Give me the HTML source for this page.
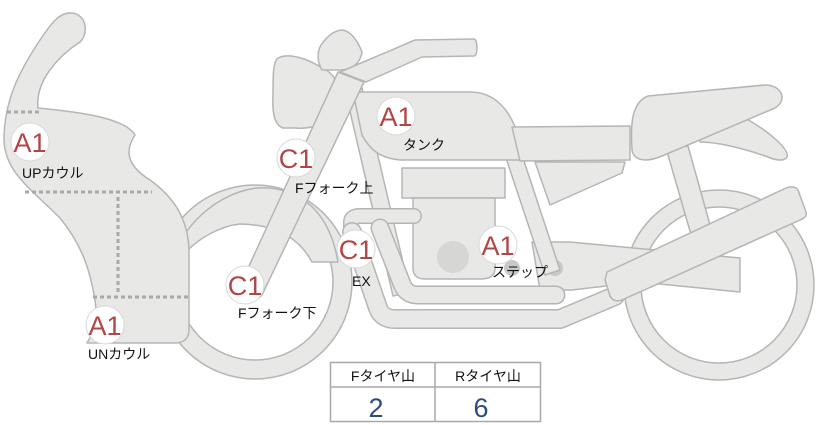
<!DOCTYPE html>
<html><head><meta charset="utf-8"><style>
html,body{margin:0;padding:0;background:#fff;}
svg{display:block;}
.p{fill:#e8e8e6;stroke:#b5b5b5;stroke-width:1.5;stroke-linejoin:round;}
.lbl{font-family:"Liberation Sans","Noto Sans CJK JP",sans-serif;font-size:14px;fill:#111;}
.bd{font-family:"Liberation Sans",sans-serif;font-size:27px;fill:#b04646;}
.po{fill:none;stroke:#b5b5b5;stroke-linejoin:round;stroke-linecap:round;}
.pf{fill:none;stroke:#e8e8e6;stroke-linejoin:round;stroke-linecap:round;}
</style></head><body>
<svg width="822" height="425" viewBox="0 0 822 425" xmlns="http://www.w3.org/2000/svg">
<!-- rear wheel -->
<circle cx="719" cy="285" r="95" class="p"/>
<circle cx="719" cy="285" r="78" fill="#fff" stroke="#b5b5b5" stroke-width="1.5"/>
<!-- front wheel -->
<circle cx="255" cy="282" r="97" class="p"/>
<circle cx="255" cy="282" r="78" fill="#fff" stroke="#b5b5b5" stroke-width="1.5"/>
<!-- front fender -->
<path class="p" d="M178,245 C200,205 240,185 270,188 C305,192 330,215 338,262 L312,262 C300,240 280,225 240,224 C220,226 200,238 188,250 Z"/>
<!-- rear shock -->
<path class="p" d="M666,148 L688,146 L712,232 L692,238 Z"/>
<!-- swingarm/step -->
<path class="p" d="M532,242 L570,242 L740,258 L740,292 L640,282 L572,290 L540,290 Z"/>
<circle cx="512" cy="268" r="8" fill="#c8c8c6"/>
<circle cx="555" cy="268" r="8" fill="#c8c8c6"/>
<!-- frame tubes -->
<path class="p" d="M345,90 L362,88 L410,292 L393,296 Z"/>
<path class="p" d="M505,155 L522,155 L560,270 L545,275 Z"/>
<!-- engine -->
<rect class="p" x="402" y="168" width="103" height="30"/>
<path class="p" d="M413,198 L495,198 L495,268 C495,276 490,279 480,279 L425,279 C417,279 413,275 413,268 Z"/>
<circle cx="453" cy="257" r="16" fill="#d6d6d4"/>
<!-- exhaust pipes -->
<path class="po" stroke-width="16" d="M351,240 L351,222 Q351,216 360,216 L414,216"/>
<path class="pf" stroke-width="13" d="M351,240 L351,222 Q351,216 360,216 L414,216"/>
<path class="po" stroke-width="20" d="M352,232 L378,308 Q382,319 395,319 L560,319 L615,296"/>
<path class="pf" stroke-width="17" d="M352,232 L378,308 Q382,319 395,319 L560,319 L615,296"/>
<path class="po" stroke-width="19" d="M380,228 L402,284 Q406,295 418,295 L556,295"/>
<path class="pf" stroke-width="16" d="M380,228 L402,284 Q406,295 418,295 L556,295"/>
<!-- tank -->
<path class="p" d="M353,92 L470,92 C495,92 510,110 518,135 L520,160 L400,160 C380,158 370,150 362,135 Z"/>
<!-- side panel -->
<path class="p" d="M512,127 L630,126 L630,160 L520,161 Z"/>
<path class="p" d="M535,162 L625,162 L622,173 L550,205 Z"/>
<!-- tail -->
<path class="p" d="M700,125 L745,118 C770,132 790,150 787,157 C784,162 775,160 768,157 C740,147 715,142 700,142 Z"/>
<!-- seat -->
<path class="p" d="M632,150 C630,120 633,102 648,96 L765,85 C782,85 788,100 775,108 L662,156 C648,162 634,162 632,150 Z"/>
<!-- muffler -->
<path class="p" d="M607,272 L786,188 C792,186 796,187 798,190 L806,212 C807,216 805,218 800,220 L622,300 C616,302 612,300 610,296 L605,280 Z"/>
<!-- headlight -->
<path class="p" d="M278,58 C290,52 310,60 322,68 C338,75 342,92 336,102 C330,120 318,130 295,128 L283,128 C275,125 272,115 273,95 C273,75 273,62 278,58 Z"/>
<path class="p" d="M321,45 C328,35 335,30 343,30 C352,32 358,42 362,52 C360,64 352,70 340,70 L322,70 C317,62 317,52 321,45 Z"/>
<!-- handlebar -->
<path class="p" d="M340,72 L415,40 L474,39 C478,39 478,56 474,56 L422,57 L366,82 Z"/>
<!-- fork -->
<path class="p" d="M338,72 L364,82 L262,295 C256,302 242,300 238,290 Z"/>
<!-- fairing -->
<path class="p" d="M72,13 C88,15 88,35 80,42 C60,55 35,80 38,108 C80,112 125,118 135,135 C125,150 126,165 150,180 C175,198 188,220 189,250 L189,330 C189,338 184,343 175,343 L87,343 C95,330 98,320 95,300 C90,270 82,245 60,218 C30,188 5,172 4,140 C4,100 20,70 40,40 C52,22 60,12 72,13 Z"/>
<g stroke="#a9a9a9" stroke-width="3" stroke-dasharray="4,3" fill="none">
<line x1="7" y1="112" x2="40" y2="112"/>
<line x1="25" y1="192" x2="152" y2="192"/>
<line x1="118" y1="197" x2="118" y2="294"/>
<line x1="93" y1="297" x2="188" y2="297"/>
</g>
<!-- badges -->
<g fill="#fff" stroke="#d8d8d8" stroke-width="1">
<circle cx="30" cy="142" r="19"/><circle cx="105" cy="325" r="19"/>
<circle cx="296" cy="158" r="19"/><circle cx="245" cy="285" r="19"/>
<circle cx="356" cy="249" r="19"/><circle cx="396" cy="116" r="19"/>
<circle cx="498" cy="245" r="19"/>
</g>
<g class="bd" text-anchor="middle">
<text x="30" y="152">A1</text><text x="105" y="335">A1</text>
<text x="296" y="168">C1</text><text x="245" y="295">C1</text>
<text x="356" y="259">C1</text><text x="396" y="126">A1</text>
<text x="498" y="255">A1</text>
</g>
<g class="lbl">
<text x="22" y="178">UPカウル</text>
<text x="88" y="359">UNカウル</text>
<text x="295" y="193">Fフォーク上</text>
<text x="238" y="318">Fフォーク下</text>
<text x="352" y="286">EX</text>
<text x="403" y="150">タンク</text>
<text x="492" y="277">ステップ</text>
</g>
<!-- table -->
<rect x="330.5" y="362.5" width="210" height="59" fill="#fff" stroke="#a8a8a8" stroke-width="1.5"/>
<line x1="330" y1="387" x2="541" y2="387" stroke="#a8a8a8" stroke-width="1.5"/>
<line x1="435" y1="362" x2="435" y2="422" stroke="#a8a8a8" stroke-width="1.5"/>
<g class="lbl" text-anchor="middle"><text x="383" y="381">Fタイヤ山</text><text x="488" y="381">Rタイヤ山</text></g>
<g font-family="Liberation Sans,sans-serif" font-size="27" fill="#2c4a80" text-anchor="middle"><text x="376" y="417">2</text><text x="481" y="417">6</text></g>
</svg>
</body></html>
